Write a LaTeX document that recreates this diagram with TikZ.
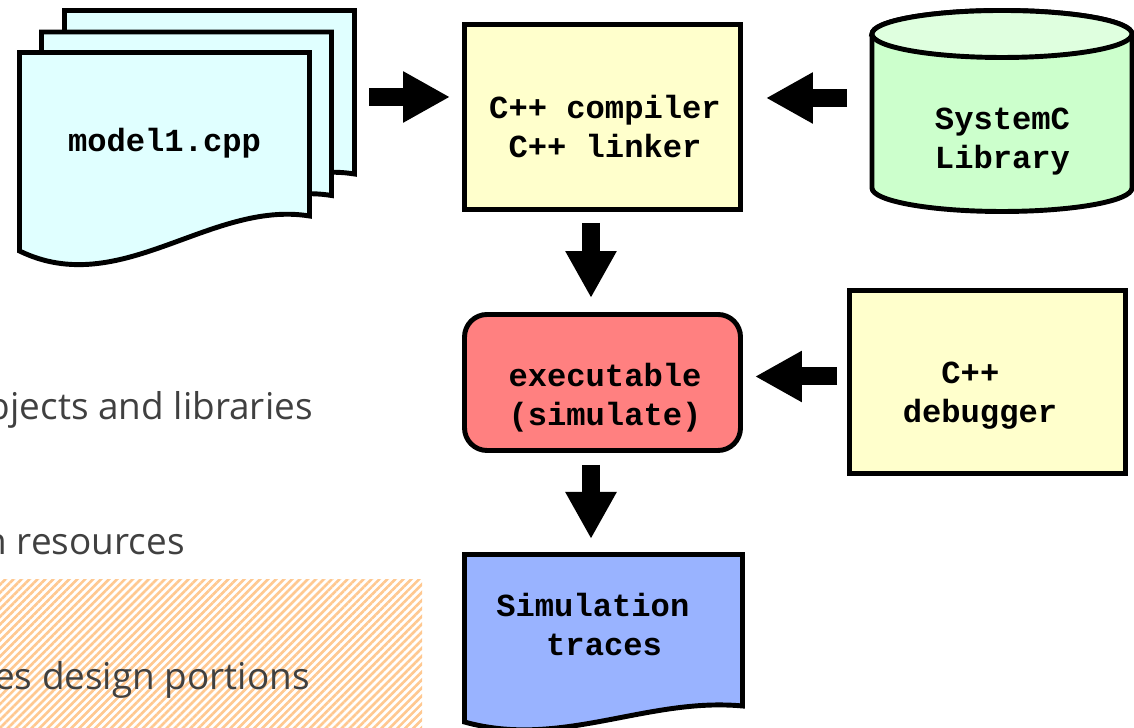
\documentclass[tikz,border=0pt]{standalone}
\usepackage{fontspec}
\setmonofont{Liberation Mono}
\setsansfont{Open Sans}
\usepackage{tikz}
\usetikzlibrary{arrows.meta,patterns.meta}
\definecolor{sheetc}{HTML}{E0FFFF}
\definecolor{toolc}{HTML}{FFFFCC}
\definecolor{libc}{HTML}{CCFFCC}
\definecolor{libtopc}{HTML}{DFFFDF}
\definecolor{execc}{HTML}{FF8080}
\definecolor{tracec}{HTML}{99B3FF}
\definecolor{slidec}{HTML}{404040}
\definecolor{hatchc}{HTML}{FFC890}
\tikzset{
  outline/.style={draw=black, line width=2.8pt, line join=miter},
  toolbox/.style={outline, fill=toolc, minimum width=5.52cm, inner sep=0pt},
  mono/.style={font=\ttfamily\bfseries\fontsize{18.3}{22.2}\selectfont, align=center, inner sep=0pt},
  slide/.style={font=\sffamily\fontsize{21}{25}\selectfont, text=slidec, inner sep=0pt, anchor=base east},
  bigarrow/.style={line width=0.36cm, -{Triangle[length=0.94cm,width=0.96cm]}},
}

\begin{document}
\begin{tikzpicture}
\useasboundingbox (0,0) rectangle (22.680,14.560);
\clip (0,0) rectangle (22.680,14.560);

\fill[pattern={Lines[angle=45,distance=3.2pt,line width=1.5pt]}, pattern color=hatchc] (0,0) rectangle (8.440,2.960);
\node[slide] (libline) at (6.260,6.160) {bjects and libraries};
\node[slide] (resline) at (3.700,3.460) {n resources};
\node[slide] (designline) at (6.200,0.760) {es design portions};

\foreach \dx/\dy in {0.900/0.840, 0.440/0.410, 0/0}
  \filldraw[outline, fill=sheetc, shift={(\dx,\dy)}] (0.390,13.510) -- (6.190,13.510) -- (6.190,10.240) .. controls (4.200,10.560) and (2.400,8.560) .. (0.390,9.540) -- cycle;
\node[mono] (srctext) at (3.290,11.690) {model1.cpp};
\coordinate (stack) at (7.140,12.620);

\node[toolbox, minimum height=3.70cm] (compiler) at (12.050,12.220) {};
\node[mono] (compilertext) at ([xshift=0.05cm,yshift=-0.20cm]compiler.center) {C++ compiler\\C++ linker};

\filldraw[outline, fill=libc] (17.440,13.880) -- (17.440,10.800) arc[start angle=180,end angle=360,x radius=2.600,y radius=0.470] -- (22.640,13.880) arc[start angle=0,end angle=180,x radius=2.600,y radius=0.470] -- cycle;
\filldraw[outline, fill=libtopc] (20.040,13.880) ellipse[x radius=2.600,y radius=0.470];
\node[mono] (libtext) at (20.050,11.720) {SystemC\\Library};
\coordinate (libside) at (17.400,12.600);

\node[outline, fill=execc, rounded corners=0.45cm, minimum width=5.52cm, minimum height=2.72cm, inner sep=0pt] (exec) at (12.050,6.910) {};
\node[mono] (exectext) at ([xshift=0.05cm,yshift=-0.30cm]exec.center) {executable\\(simulate)};

\node[toolbox, minimum height=3.66cm] (debugger) at (19.750,6.920) {};
\node[mono] (debuggertext) at ([xshift=-0.15cm,yshift=-0.28cm]debugger.center) {C++\phantom{x}\\debugger};

\filldraw[outline, fill=tracec] (9.290,3.470) -- (14.850,3.470) -- (14.850,0.440) .. controls (12.940,0.620) and (11.220,-0.420) .. (9.290,0.120) -- cycle;
\node[mono, align=left, anchor=west] (tracestext) at (9.920,2.070) {Simulation\\\hspace*{1.55em}traces};
\coordinate (tracestop) at (11.820,3.520);

\draw[bigarrow, shorten <=0.24cm, shorten >=0.24cm] (stack) -- (stack -| compiler.west);
\draw[bigarrow, shorten <=0.46cm, shorten >=0.46cm] (libside) -- (libside -| compiler.east);
\draw[bigarrow, shorten <=0.22cm, shorten >=0.28cm] ([xshift=-0.23cm]compiler.south) -- ([xshift=-0.23cm]exec.north);
\draw[bigarrow, shorten <=0.20cm, shorten >=0.24cm] ([yshift=0.11cm]debugger.west) -- ([yshift=0.11cm]debugger.west -| exec.east);
\draw[bigarrow, shorten <=0.24cm, shorten >=0.26cm] (exec.south -| tracestop) -- (tracestop);
\end{tikzpicture}
\end{document}
